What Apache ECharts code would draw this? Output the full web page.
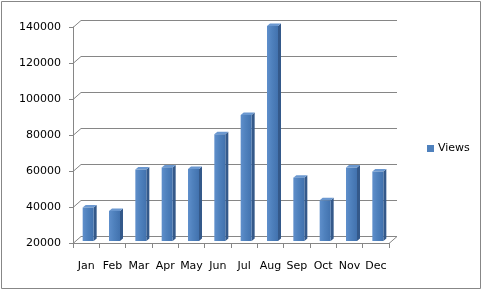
<!DOCTYPE html>
<html>
<head>
<meta charset="utf-8">
<script src="https://cdn.jsdelivr.net/npm/echarts@6/dist/echarts.min.js"></script>
<style>
html,body{margin:0;padding:0;background:#fff;}
#c{width:483px;height:291px;}
</style>
</head>
<body>
<div id="c"></div>
<script>
const categories = ['Jan','Feb','Mar','Apr','May','Jun','Jul','Aug','Sep','Oct','Nov','Dec'];
const views = [38600, 36700, 59700, 60900, 60000, 79300, 90000, 139500, 55200, 42600, 60800, 58600];
const yTicks = [20000, 40000, 60000, 80000, 100000, 120000, 140000];
const seriesName = 'Views';

const DX = 8, DY = -7;          // depth of the 3D box
const FX = 2, FY = -2;          // bar front-face depth shift
const SX = 3, SY = -2.5;        // bar side depth
const BAR_W = 11;
const GRID_COLOR = '#868686';
const FONT = 'DejaVu Sans';

const chart = echarts.init(document.getElementById('c'), null, {renderer: 'canvas'});

chart.setOption({
  animation: false,
  backgroundColor: '#fff',
  graphic: [{
    type: 'rect', shape: {x: 1.5, y: 1.5, width: 479, height: 287},
    style: {fill: 'none', stroke: '#878787', lineWidth: 1}, silent: true, z: 0
  }],
  legend: {
    data: [seriesName], left: 422, top: 138, icon: 'rect',
    itemWidth: 7, itemHeight: 7, itemGap: 4,
    textStyle: {fontFamily: FONT, fontSize: 11, color: '#000', padding: [0,0,0,-1]}
  },
  grid: {left: 73, top: 27, width: 316, height: 216, containLabel: false},
  xAxis: {
    type: 'category', data: categories, boundaryGap: true,
    axisLine: {show: true, lineStyle: {color: GRID_COLOR}},
    axisTick: {show: true, length: 5, interval: 0, lineStyle: {color: GRID_COLOR}},
    axisLabel: {fontFamily: FONT, fontSize: 11, color: '#000', margin: 18, interval: 0},
    splitLine: {show: false}
  },
  yAxis: {
    type: 'value', min: yTicks[0], max: yTicks[yTicks.length - 1], interval: 20000,
    axisLine: {show: true, lineStyle: {color: GRID_COLOR}},
    axisTick: {show: true, length: 4, lineStyle: {color: GRID_COLOR}},
    axisLabel: {fontFamily: FONT, fontSize: 11, color: '#000', margin: 12,
                formatter: v => String(v)},
    splitLine: {show: false}
  },
  series: [
    {
      type: 'custom', name: '_walls', silent: true, clip: false, z: 1,
      data: yTicks.map(v => [0, v]),
      renderItem: function (params, api) {
        const v = api.value(1);
        const band = api.size([1, 0])[0];
        const p0 = api.coord([0, v]);
        const p1 = api.coord([categories.length - 1, v]);
        const xl = Math.round(p0[0] - band / 2);
        const xr = Math.round(p1[0] + band / 2);
        const y = Math.round(p0[1]);
        const children = [{
          type: 'polyline',
          shape: {points: [[xl, y + 0.5], [xl + DX, y + DY + 0.5], [xr + DX, y + DY + 0.5]]},
          style: {stroke: GRID_COLOR, fill: 'none', lineWidth: 1}
        }];
        if (v === yTicks[0]) {
          children.push({
            type: 'line',
            shape: {x1: xr, y1: y + 0.5, x2: xr + DX, y2: y + DY + 0.5},
            style: {stroke: GRID_COLOR, lineWidth: 1}
          });
        }
        return {type: 'group', children: children};
      }
    },
    {
      type: 'custom', name: seriesName, clip: false, z: 3,
      itemStyle: {color: '#4F81BD'},
      data: views.map((v, i) => [i, v]),
      renderItem: function (params, api) {
        const i = api.value(0), v = api.value(1);
        const top = api.coord([i, v]);
        const base = api.coord([i, yTicks[0]]);
        const cx = top[0] + FX;
        const xl = cx - BAR_W / 2, xr = cx + BAR_W / 2;
        const yt = top[1] + FY, yb = base[1] + FY;
        return {
          type: 'group',
          children: [
            {
              type: 'polygon',
              shape: {points: [[xr, yt], [xr + SX, yt + SY], [xr + SX, yb + SY], [xr, yb]]},
              style: {fill: '#34598A'}
            },
            {
              type: 'polygon',
              shape: {points: [[xl, yt], [xl + SX, yt + SY], [xr + SX, yt + SY], [xr, yt]]},
              style: {fill: '#6B98D0'}
            },
            {
              type: 'rect',
              shape: {x: xl, y: yt, width: BAR_W, height: yb - yt},
              style: {
                fill: new echarts.graphic.LinearGradient(0, 0, 1, 0, [
                  {offset: 0, color: '#5F8FCB'},
                  {offset: 0.45, color: '#4F81BD'},
                  {offset: 1, color: '#4272AE'}
                ])
              }
            }
          ]
        };
      }
    }
  ]
});
</script>
</body>
</html>
